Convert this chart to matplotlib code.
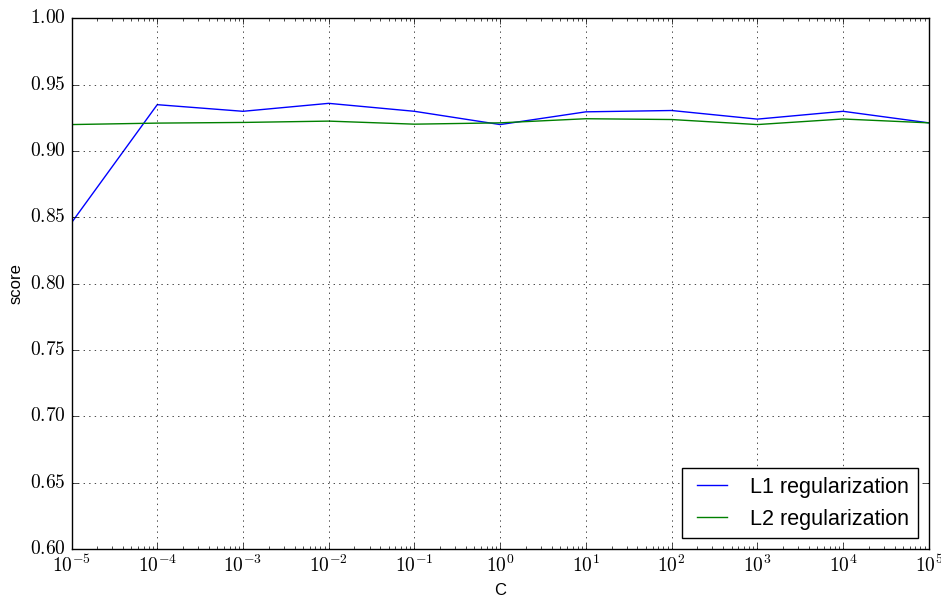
import numpy as np
import matplotlib

matplotlib.use('agg')

import matplotlib.pyplot as plt
from matplotlib.ticker import FuncFormatter

# значения параметра регуляризации и оценки
C_values = [1e-5, 1e-4, 1e-3, 1e-2, 1e-1, 1e0, 1e1, 1e2, 1e3, 1e4, 1e5]
l1_scores = [0.846, 0.935, 0.930, 0.936, 0.930, 0.920, 0.9296, 0.9306, 0.9241, 0.930, 0.9213]
l2_scores = [0.920, 0.9211, 0.9216, 0.9226, 0.9203, 0.9213, 0.9244, 0.9238, 0.9200, 0.9242, 0.9213]
y_ticks = [0.60, 0.65, 0.70, 0.75, 0.80, 0.85, 0.90, 0.95, 1.00]

plt.style.use('classic')
plt.rcParams['mathtext.fontset'] = 'cm'
plt.rcParams['font.family'] = ['Liberation Sans', 'DejaVu Sans']

fig = plt.figure(figsize=(9.41, 5.96), dpi=100, facecolor='white')
ax = fig.add_axes([0.076, 0.079, 0.911, 0.89])

ax.plot(C_values, l1_scores, color='blue', label='L1 regularization')
ax.plot(C_values, l2_scores, color='green', label='L2 regularization')
ax.set_xscale('log')
ax.set_xlim(1e-5, 1e5)
ax.set_ylim(0.60, 1.00)
ax.set_yticks(y_ticks)
ax.yaxis.set_major_formatter(FuncFormatter(lambda v, p: r'$%.2f$' % v))
ax.xaxis.set_major_formatter(FuncFormatter(lambda v, p: r'$10^{%d}$' % round(np.log10(v))))
ax.tick_params(labelsize=14)
ax.set_xlabel('C', fontsize=12)
ax.set_ylabel('score', fontsize=12)
ax.grid(True)
ax.legend(loc='lower right', fontsize=15.5)

fig.savefig('out.png', dpi=100, facecolor='white')
